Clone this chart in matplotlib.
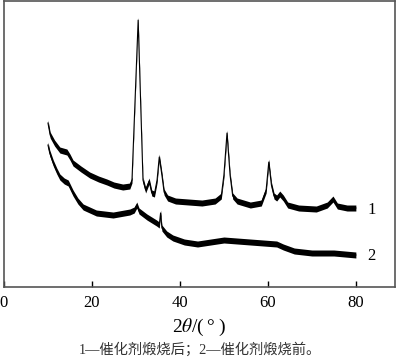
import matplotlib
matplotlib.use("Agg")
import matplotlib.pyplot as plt
import numpy as np

plt.rcParams['font.family'] = ['Liberation Serif', 'Noto Sans CJK SC']
plt.rcParams['mathtext.fontset'] = 'stix'

# 1 - after calcination (2theta, intensity a.u.)
two_theta_1 = [10.0, 10.5, 11.5, 12.7, 13.5, 14.3, 15.0, 15.7, 17.5, 19.5, 21.5, 23.4, 25, 27, 28.6,
               29.1, 30.5, 31.6, 32.2, 33.0, 33.6, 34.2, 34.8, 35.3, 35.9, 36.4, 37.2,
               39, 42, 45, 48, 49.4, 50.0, 50.7, 51.4, 52.0, 53, 56, 58.5, 59.6, 60.2,
               60.8, 61.4, 62, 62.7, 63.5, 64.5, 67, 71, 73.5, 74.8, 75.8, 78, 80]
inten_1 = [164, 152, 144, 137, 136, 135, 130, 124, 118, 112, 108, 105, 102, 100, 101,
           107, 267, 107, 97, 106, 94, 93, 107, 130, 112, 95, 89,
           86, 85, 84, 86, 91, 112, 154, 112, 91, 86, 82, 84, 97, 125,
           102, 91, 89, 93, 89, 82, 79, 78, 82, 88, 81, 79, 79]

# 2 - before calcination
two_theta_2 = [10.0, 10.4, 11.2, 12.0, 12.7, 13.7, 14.6, 15.7, 16.8, 18, 21, 24.8, 28.6,
               29.6, 30.2, 30.7, 32.5, 34.7, 35.3, 35.6, 35.9, 37, 38.4, 41, 44, 47,
               50, 53, 56, 59, 62, 63.5, 66, 70, 75, 80]
inten_2 = [142, 134, 124, 116, 110, 106, 104, 94, 86, 80, 74, 72, 75,
           77, 82, 76, 70, 64, 62, 74, 59, 53, 49, 45, 43, 45,
           47, 46, 45, 44, 43, 40, 36, 34, 34, 32]

xticks = [0, 20, 40, 60, 80]
caption = "1\u2014催化剂煅烧后；2\u2014催化剂煅烧前。"

fig = plt.figure(figsize=(4.0, 3.61), dpi=100)
ax = fig.add_axes([0.01, 0.205, 0.9775, 0.792])

for xs, ys in [(two_theta_1, inten_1), (two_theta_2, inten_2)]:
    xs = np.array(xs)
    ys = np.array(ys)
    ax.fill_between(xs, ys - 3, ys + 3, color='black', lw=0)
    ax.plot(xs, ys, color='black', lw=0.8)

ax.text(82.7, 77, "1", fontsize=12, va='center', ha='left')
ax.text(82.7, 31, "2", fontsize=12, va='center', ha='left')

ax.set_xlim(0, 88.9)
ax.set_ylim(0, 286)
ax.set_xticks(xticks)
ax.set_yticks([])
ax.tick_params(axis='x', direction='in', length=4, width=1, labelsize=12, pad=6)
for s in ax.spines.values():
    s.set_color('#555555')
    s.set_linewidth(1.2)

ax.set_xlabel(r"2$\theta$/(" + "\u2009°\u2009)", fontsize=14, labelpad=4)
fig.text(0.5, 0.033, caption, fontsize=10.3, ha='center', va='center', color='#333333')

fig.savefig("out.png", dpi=100)
